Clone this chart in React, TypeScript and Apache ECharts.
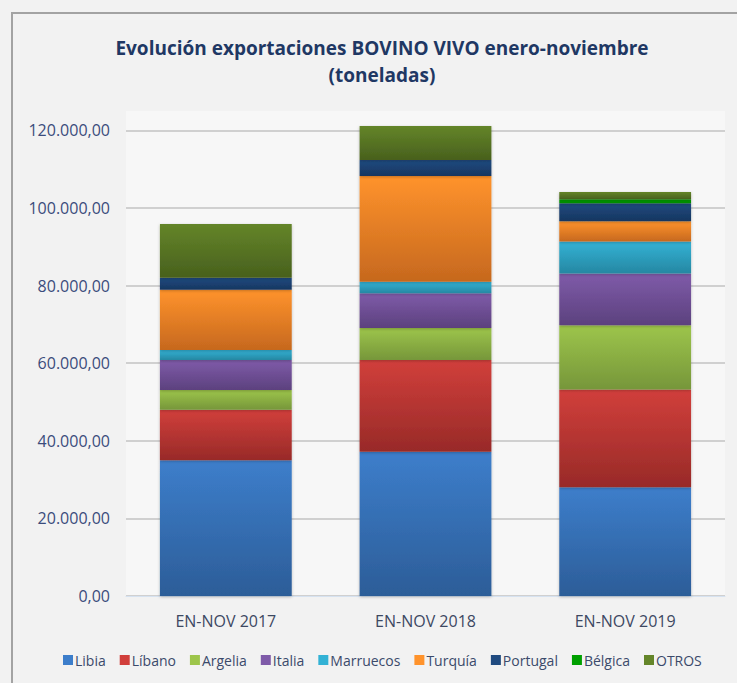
import React, { useEffect, useRef } from "react";
import * as echarts from "echarts";

const categories = ["EN-NOV 2017", "EN-NOV 2018", "EN-NOV 2019"];
const seriesNames = ["Libia", "Líbano", "Argelia", "Italia", "Marruecos", "Turquía", "Portugal", "Bélgica", "OTROS"];
const libia = [35000, 37200, 28000];
const libano = [13000, 23600, 25200];
const argelia = [5100, 8300, 16600];
const italia = [7700, 8900, 13300];
const marruecos = [2600, 3000, 8250];
const turquia = [15500, 27250, 5250];
const portugal = [3100, 4100, 4650];
const belgica = [0, 0, 1000];
const otros = [13900, 8800, 1900];
const seriesValues = [libia, libano, argelia, italia, marruecos, turquia, portugal, belgica, otros];
const yTicks = [0, 20000, 40000, 60000, 80000, 100000, 120000];

const colorTop = ["#3d7ecb", "#d13f3b", "#9dc54b", "#7f5ba9", "#33b2d5", "#ff932c", "#204b80", "#00a000", "#648529"];
const colorBottom = ["#2c5d98", "#982a28", "#76963a", "#5c417e", "#2687a2", "#c6681e", "#163660", "#008c00", "#48601d"];

function fmt(v: number): string {
  const s = Math.round(v).toString().replace(/\B(?=(\d{3})+(?!\d))/g, ".");
  return s + ",00";
}

export default function App() {
  const ref = useRef<HTMLDivElement>(null);
  useEffect(() => {
    if (!ref.current) return;
    const chart = echarts.init(ref.current, undefined, { renderer: "svg" });
    const series = seriesNames.map((name, i) => ({
      name,
      type: "bar",
      stack: "total",
      barWidth: "66%",
      data: seriesValues[i],
      itemStyle: {
        color: new echarts.graphic.LinearGradient(0, 0, 0, 1, [
          { offset: 0, color: colorTop[i] },
          { offset: 1, color: colorBottom[i] },
        ]),
        shadowBlur: 3,
        shadowColor: "rgba(0,0,0,0.25)",
        shadowOffsetY: 1,
      },
    }));
    chart.setOption({
      animation: false,
      backgroundColor: "#f2f2f2",
      title: {
        text: "Evolución exportaciones BOVINO VIVO enero-noviembre\n(toneladas)",
        left: 377,
        top: 29,
        textAlign: "center",
        textStyle: {
          fontFamily: "Open Sans",
          fontSize: 19,
          fontWeight: "bold",
          color: "#1f3864",
          lineHeight: 27,
        },
      },
      graphic: [
        {
          type: "rect",
          shape: { x: 12, y: 13, width: 900, height: 900 },
          style: { fill: "none", stroke: "#a3a3a3", lineWidth: 2 },
          silent: true,
          z: -1,
        },
      ],
      legend: {
        left: 58,
        top: 648,
        itemWidth: 10,
        itemHeight: 10,
        itemGap: 14,
        icon: "rect",
        data: seriesNames.map((n, i) => ({ name: n, itemStyle: { color: colorTop[i] } })),
        textStyle: { fontFamily: "Open Sans", fontSize: 14, color: "#3b4a6b", padding: [0, 0, 0, -3] },
      },
      grid: {
        left: 126,
        right: 12,
        top: 111,
        bottom: 87,
        show: true,
        backgroundColor: "#f7f7f7",
        borderWidth: 0,
      },
      xAxis: {
        type: "category",
        data: categories,
        axisLine: { lineStyle: { color: "#d6e2f0", width: 1 } },
        axisTick: { show: false },
        axisLabel: {
          margin: 17,
          fontFamily: "Open Sans",
          fontSize: 16,
          color: "#3d4862",
        },
      },
      yAxis: {
        type: "value",
        min: 0,
        max: 125000,
        interval: 20000,
        axisLine: { show: false },
        axisTick: { show: false },
        axisLabel: {
          margin: 16,
          showMaxLabel: false,
          fontFamily: "Open Sans",
          fontSize: 16,
          color: "#3b4c7c",
          formatter: (v: number) => (yTicks.indexOf(v) >= 0 ? fmt(v) : ""),
        },
        splitLine: { show: true, showMaxLine: false, lineStyle: { color: "#d0d0d0", width: 2 } },
      },
      series,
    });
    return () => chart.dispose();
  }, []);
  return (
    <div style={{ position: "fixed", left: 0, top: 0, width: 737, height: 683, background: "#f2f2f2" }}>
      <div ref={ref} style={{ width: 737, height: 683 }} />
    </div>
  );
}
